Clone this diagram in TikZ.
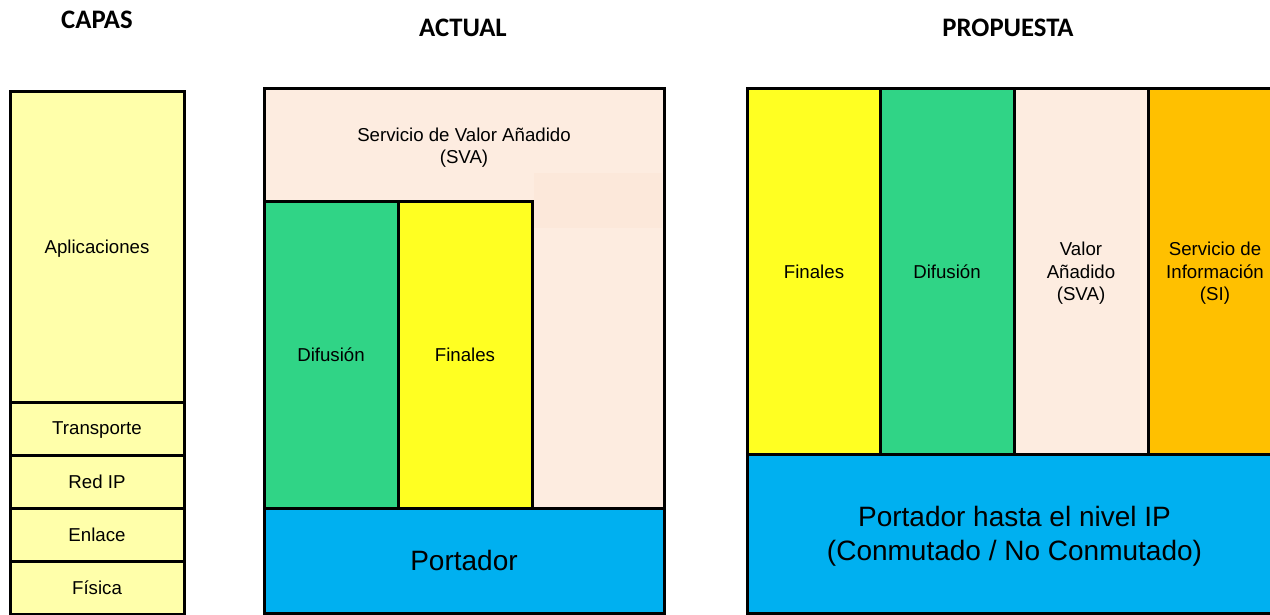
\documentclass[tikz,border=0pt]{standalone}
\usepackage{fontspec}
\setmainfont{Liberation Sans}
\newfontfamily\titlefont{Carlito}
\usetikzlibrary{positioning}
\definecolor{capaY}{HTML}{FFFFAA}
\definecolor{peach}{HTML}{FDECE0}
\definecolor{peachD}{HTML}{FCE8DA}
\definecolor{verde}{HTML}{30D486}
\definecolor{amar}{HTML}{FFFF22}
\definecolor{azul}{HTML}{00B0F0}
\definecolor{naranja}{HTML}{FFC000}

\begin{document}
\begin{tikzpicture}[x=1pt, y=-1pt,
    box/.style={draw, line width=3pt, inner sep=0pt, text depth=0pt, align=center, font=\fontsize{18.67}{22.4}\selectfont},
    big/.style={box, font=\fontsize{28}{34}\selectfont},
    title/.style={font=\titlefont\bfseries\fontsize{26.7}{32}\selectfont}
]
    \useasboundingbox (0,0) rectangle (1270,615);
    % Capas
    \node[title] (capas) at (97,20) {CAPAS};
    \node[box, fill=capaY, minimum width=174, minimum height=310] (apl) at (97,247) {Aplicaciones};
    \foreach \name/\txt [count=\i] in {transp/Transporte, red/Red IP, enl/Enlace, fis/Física} {
        \node[box, fill=capaY, minimum width=174, minimum height=53] (\name) at (97,375.5+53*\i) {\txt};
    }
    % Actual
    \node[title] (actual) at (463,28) {ACTUAL};
    \node[box, fill=peach, minimum width=400, minimum height=419] (sva) at (464,298.5) {};
    \fill[peachD] (534,173) rectangle (662,228);
    \node[box, draw=none] (svatxt) at (464,146) {Servicio de Valor Añadido\\(SVA)};
    \node[box, fill=verde, minimum width=134, minimum height=306] (dif) at (331,355) {Difusión};
    \node[box, fill=amar, minimum width=134, minimum height=306] (fin) at (465,355) {Finales};
    \node[big, fill=azul, minimum width=400, minimum height=105] (port) at (464,560.5) {Portador};
    % Propuesta
    \node[title] (propuesta) at (1008,28) {PROPUESTA};
    \foreach \name/\col/\x/\txt in {pfin/amar/814/Finales, pdif/verde/947/Difusión,
        pval/peach/1081/{Valor\\Añadido\\(SVA)}, pinf/naranja/1215/{Servicio de\\Información\\(SI)}} {
        \node[box, fill=\col, minimum width=134, minimum height=365] (\name) at (\x,271.5) {\txt};
    }
    \node[big, fill=azul, minimum width=535, minimum height=159] (pport) at (1014.5,533.5) {Portador hasta el nivel IP\\(Conmutado / No Conmutado)};
\end{tikzpicture}
\end{document}
